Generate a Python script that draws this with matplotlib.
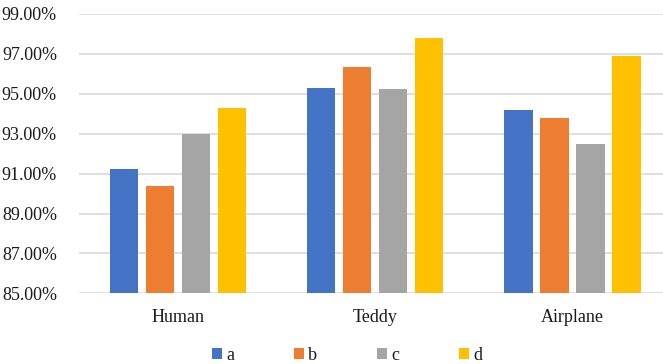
import matplotlib
matplotlib.use("Agg")
import matplotlib.pyplot as plt
import numpy as np
from matplotlib.ticker import FuncFormatter

categories = ["Human", "Teddy", "Airplane"]
series = ["a", "b", "c", "d"]
a_vals = [91.22, 95.28, 94.19]
b_vals = [90.38, 96.33, 93.77]
c_vals = [93.00, 95.24, 92.50]
d_vals = [94.29, 97.78, 96.90]
colors = ["#4472C4", "#ED7D31", "#A5A5A5", "#FFC000"]

plt.rcParams['font.family'] = ['Liberation Serif', 'DejaVu Serif']

fig = plt.figure(figsize=(6.63, 3.64), dpi=100)
ax = fig.add_axes([79.2 / 663, 1 - 293.3 / 364, (671 - 79.2) / 663, (293.3 - 14) / 364])

x = np.arange(len(categories))
pitch = 0.1825
width = 0.1435
for i, (name, vals) in enumerate(zip(series, [a_vals, b_vals, c_vals, d_vals])):
    ax.bar(x + (i - 1.5) * pitch, np.array(vals) - 85, width, bottom=85,
           color=colors[i], label=name, zorder=3)

ax.set_xlim(-0.5, 2.5)
ax.set_ylim(85, 99)
ax.set_yticks(np.arange(85, 99.1, 2))
ax.yaxis.set_major_formatter(FuncFormatter(lambda v, p: f"{v:.2f}%"))
ax.set_xticks(x)
ax.set_xticklabels(categories)
ax.grid(axis='y', color='#d9d9d9', linewidth=1.2, zorder=0)
for s in ['top', 'right', 'left', 'bottom']:
    ax.spines[s].set_visible(False)
ax.tick_params(axis='both', length=0, labelsize=13, colors='#1a1a1a')
ax.tick_params(axis='y', pad=16)
ax.tick_params(axis='x', pad=11)

fig.legend(loc='center', bbox_to_anchor=(347 / 663, 1 - 355 / 364), ncol=4,
           frameon=False, fontsize=13, handlelength=0.55, handleheight=0.55,
           handletextpad=0.25, columnspacing=3.3, labelcolor='#1a1a1a')

fig.savefig("out.png", dpi=100)
